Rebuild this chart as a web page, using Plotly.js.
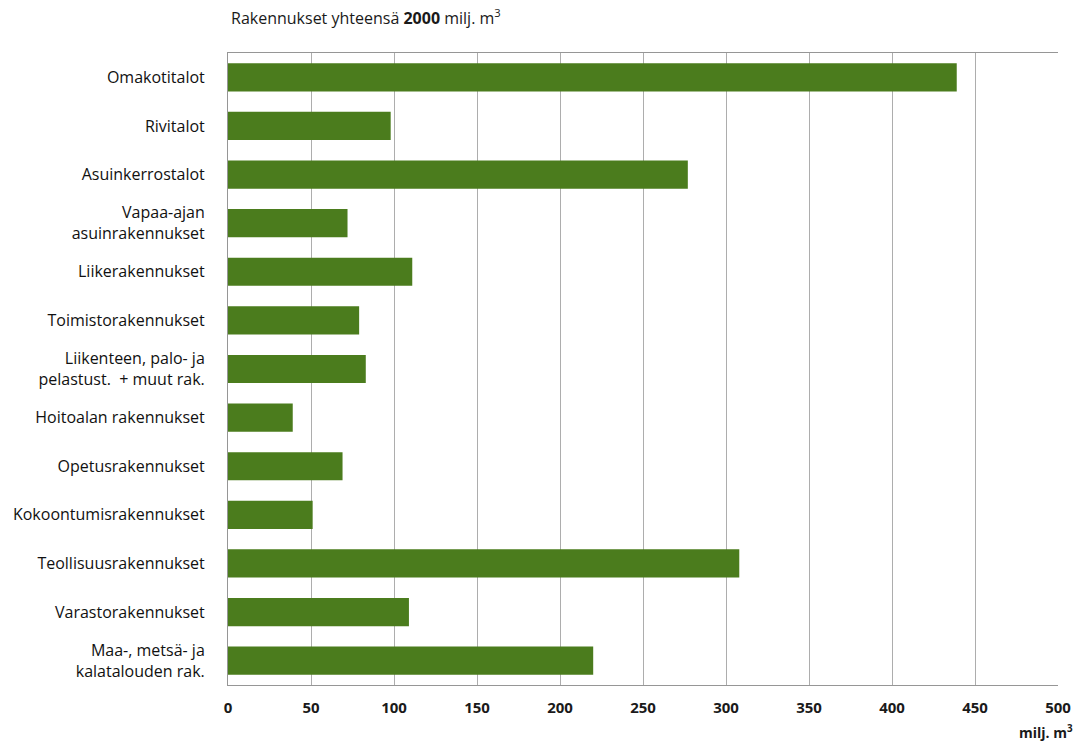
<!DOCTYPE html>
<html>
<head>
<meta charset="utf-8">
<script src="https://cdn.plot.ly/plotly-3.0.1.min.js"></script>
<style>
  html, body { margin: 0; padding: 0; background: #fff; }
  #chart { width: 1078px; height: 742px; }
</style>
</head>
<body>
<div id="chart"></div>
<script>
// Building stock by use category, million cubic metres
const categories = [
  "Omakotitalot",
  "Rivitalot",
  "Asuinkerrostalot",
  "Vapaa-ajan<br>asuinrakennukset",
  "Liikerakennukset",
  "Toimistorakennukset",
  "Liikenteen, palo- ja<br>pelastust.  + muut rak.",
  "Hoitoalan rakennukset",
  "Opetusrakennukset",
  "Kokoontumisrakennukset",
  "Teollisuusrakennukset",
  "Varastorakennukset",
  "Maa-, metsä- ja<br>kalatalouden rak."
];
const volumes = [439, 98, 277, 72, 111, 79, 83, 39, 69, 51, 308, 109, 220];
const xTicks = [0, 50, 100, 150, 200, 250, 300, 350, 400, 450, 500];

const font = "'Open Sans', 'Noto Sans', sans-serif";

const trace = {
  type: "bar",
  orientation: "h",
  x: volumes,
  y: categories,
  width: 0.58,
  marker: { color: "#4b7c1d", line: { width: 0 } },
  hoverinfo: "x+y"
};

const layout = {
  width: 1078,
  height: 742,
  margin: { l: 228, r: 20, t: 53, b: 57 },
  paper_bgcolor: "#ffffff",
  plot_bgcolor: "#ffffff",
  showlegend: false,
  font: { family: font, color: "#1f1f1f", size: 14 },
  title: {
    text: "Rakennukset yhteensä <b>2000</b> milj. m<sup>3</sup>",
    x: 231 / 1078,
    xref: "container",
    xanchor: "left",
    y: 1 - 18 / 742,
    yref: "container",
    yanchor: "middle",
    font: { family: font, size: 16, color: "#1a1a1a" }
  },
  xaxis: {
    range: [0, 500],
    tickvals: xTicks,
    ticktext: xTicks.map(v => "<b>" + v + "</b>"),
    showgrid: true,
    gridcolor: "#adadad",
    gridwidth: 1,
    zeroline: false,
    showline: true,
    mirror: true,
    linecolor: "#969696",
    linewidth: 1,
    ticks: "outside",
    ticklen: 9,
    tickcolor: "rgba(0,0,0,0)",
    tickfont: { family: font, size: 15, color: "#1a1a1a" },
    fixedrange: true
  },
  yaxis: {
    type: "category",
    autorange: "reversed",
    showgrid: false,
    zeroline: false,
    showline: true,
    linecolor: "#969696",
    linewidth: 1,
    ticks: "outside",
    ticklen: 19,
    tickcolor: "rgba(0,0,0,0)",
    tickfont: { family: font, size: 16, color: "#111111", weight: 500 },
    fixedrange: true
  },
  annotations: [
    {
      text: "<b>milj. m<sup>3</sup></b>",
      xref: "paper",
      yref: "paper",
      x: 1.0 + 17 / 830,
      y: -47 / 632,
      xanchor: "right",
      yanchor: "middle",
      showarrow: false,
      font: { family: font, size: 14, color: "#1a1a1a" }
    }
  ]
};

Plotly.newPlot("chart", [trace], layout, { displayModeBar: false, staticPlot: true });
</script>
</body>
</html>
